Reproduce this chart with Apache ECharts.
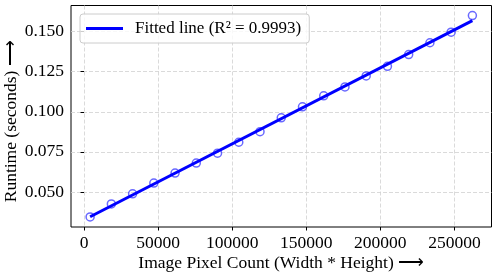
<!DOCTYPE html>
<html>
<head>
<meta charset="utf-8">
<script src="https://cdn.jsdelivr.net/npm/echarts@6/dist/echarts.min.js"></script>
<style>html,body{margin:0;padding:0;background:#fff;}#c{width:503px;height:274px;}</style>
</head>
<body>
<div id="c"></div>
<script>
// Data
const pixelCounts = [4096, 18432, 32768, 47104, 61440, 75776, 90112, 104448, 118784, 133120, 147456, 161792, 176128, 190464, 204800, 219136, 233472, 247808, 262144];
const runtimes = [0.0345, 0.0426, 0.0489, 0.0556, 0.0618, 0.0680, 0.0742, 0.0810, 0.0876, 0.0962, 0.1031, 0.1099, 0.1155, 0.1223, 0.1283, 0.1356, 0.1430, 0.1496, 0.1599];
const fitX = [4096, 262144];
const fitY = [0.0346, 0.1568];
const fitName = 'Fitted line (R\u00B2 = 0.9993)';
const xTicks = [0, 50000, 100000, 150000, 200000, 250000];
const yTicks = [0.050, 0.075, 0.100, 0.125, 0.150];
const xRange = [-8806, 275046];
const yRange = [0.0282, 0.1662];

const serif = '"Liberation Serif", "Times New Roman", serif';
const chart = echarts.init(document.getElementById('c'), null, {renderer: 'canvas'});
chart.setOption({
  animation: false,
  backgroundColor: '#fff',
  grid: {left: 71, right: 11.5, top: 5.5, bottom: 47, show: true, borderColor: '#000', borderWidth: 1, backgroundColor: 'transparent', containLabel: false, outerBoundsMode: 'none'},
  legend: {
    left: 80, top: 14,
    data: [{name: fitName, icon: 'rect'}],
    itemWidth: 37, itemHeight: 3,
    padding: [6, 8, 6, 6],
    backgroundColor: 'rgba(255,255,255,0.8)',
    borderColor: '#cccccc', borderWidth: 1, borderRadius: 3,
    textStyle: {fontFamily: serif, fontSize: 17, color: '#000', padding: [0, 0, 0, 7]}
  },
  xAxis: {
    type: 'value', min: xRange[0], max: xRange[1],
    name: 'Image Pixel Count (Width * Height) \u27F6',
    nameLocation: 'middle', nameGap: 27.5, nameMoveOverlap: false,
    nameTextStyle: {fontFamily: serif, fontSize: 17.5, color: '#000'},
    axisLine: {show: false},
    axisTick: {show: true, length: 3.5, inside: false, lineStyle: {color: '#000'}, customValues: xTicks},
    axisLabel: {fontFamily: serif, fontSize: 17.5, color: '#000', margin: 7, customValues: xTicks, formatter: v => String(v)},
    splitLine: {show: true, lineStyle: {color: '#d0d0d0', type: [4, 2], width: 0.8}}
  },
  yAxis: {
    type: 'value', min: yRange[0], max: yRange[1],
    name: 'Runtime (seconds) \u27F6',
    nameLocation: 'middle', nameGap: 50.5, nameRotate: 90, nameMoveOverlap: false,
    nameTextStyle: {fontFamily: serif, fontSize: 17.5, color: '#000', padding: [0, 10, 0, 0]},
    axisLine: {show: false},
    axisTick: {show: true, length: 3.5, lineStyle: {color: '#000'}, customValues: yTicks},
    axisLabel: {fontFamily: serif, fontSize: 17.5, color: '#000', margin: 7, customValues: yTicks, formatter: v => v.toFixed(3)},
    splitLine: {show: true, lineStyle: {color: '#d0d0d0', type: [4, 2], width: 0.8}}
  },
  series: [
    {
      type: 'scatter', name: 'points', z: 2,
      data: pixelCounts.map((x, i) => [x, runtimes[i]]),
      symbol: 'circle', symbolSize: 8,
      itemStyle: {color: 'rgba(255,255,255,0)', borderColor: 'rgba(20,20,255,0.8)', borderWidth: 1.5}
    },
    {
      type: 'line', name: fitName, z: 3,
      data: fitX.map((x, i) => [x, fitY[i]]),
      symbol: 'none', showSymbol: false,
      lineStyle: {color: '#0000ff', width: 3},
      itemStyle: {color: '#0000ff'}
    }
  ]
});
</script>
</body>
</html>
